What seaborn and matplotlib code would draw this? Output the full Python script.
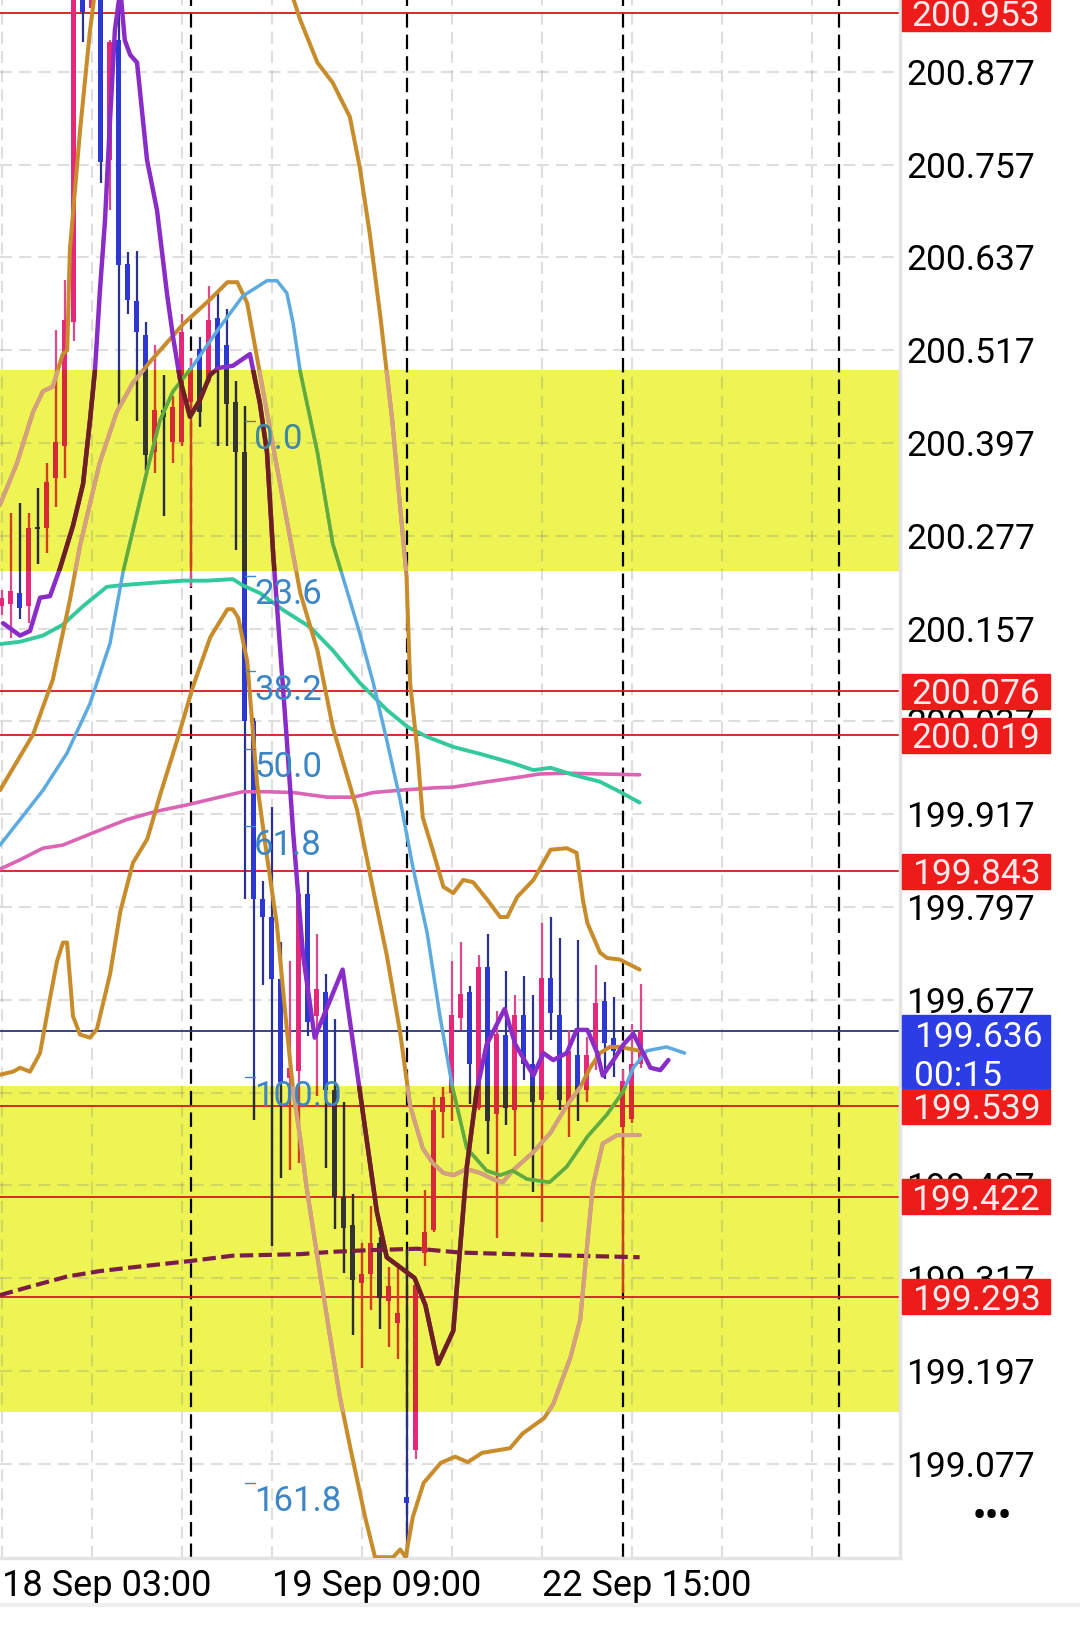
import numpy as np
import matplotlib.pyplot as plt
from matplotlib.patches import Rectangle
from matplotlib.lines import Line2D
import seaborn as sns

# H1 candles, index 0 = 18 Sep 03:00
opens = [200.186, 200.189, 200.203, 200.186, 200.288, 200.287, 200.352, 200.393, 200.554, 201.000,
         200.960, 201.050, 200.763, 200.918, 200.629, 200.581, 200.537, 200.385, 200.440, 200.398,
         200.398, 200.450, 200.519, 200.477, 200.559, 200.524, 200.450, 200.385, 200.038, 199.807,
         199.784, 199.704, 199.576, 199.585, 199.814, 199.656, 199.687, 199.560, 199.422, 199.386,
         199.311, 199.322, 199.363, 199.288, 199.259, 199.034, 199.095, 199.350, 199.379, 199.532,
         199.557, 199.654, 199.687, 199.537, 199.720, 199.529, 199.632, 199.535, 199.657, 199.594,
         199.547, 199.705, 199.657, 199.542, 199.605, 199.560, 199.613, 199.676, 199.627, 199.513,
         199.523, 199.594]
highs = [200.207, 200.307, 200.320, 200.307, 200.339, 200.371, 200.543, 200.608, 201.080, 201.060,
         201.100, 201.080, 200.918, 200.975, 200.644, 200.645, 200.554, 200.524, 200.485, 200.458,
         200.564, 200.507, 200.534, 200.600, 200.592, 200.570, 200.477, 200.445, 200.041, 199.831,
         199.926, 199.752, 199.727, 199.820, 199.842, 199.762, 199.710, 199.652, 199.545, 199.426,
         199.363, 199.410, 199.370, 199.332, 199.336, 199.355, 199.310, 199.431, 199.551, 199.564,
         199.727, 199.752, 199.695, 199.735, 199.762, 199.663, 199.714, 199.683, 199.708, 199.683,
         199.776, 199.784, 199.757, 199.638, 199.754, 199.629, 199.722, 199.700, 199.681, 199.586,
         199.646, 199.698]
lows = [200.175, 200.145, 200.170, 200.164, 200.241, 200.255, 200.314, 200.352, 200.529, 200.916,
        200.950, 200.733, 200.698, 200.442, 200.564, 200.426, 200.361, 200.358, 200.303, 200.371,
        200.393, 200.211, 200.418, 200.475, 200.393, 200.393, 200.259, 199.807, 199.522, 199.696,
        199.359, 199.447, 199.457, 199.466, 199.630, 199.553, 199.460, 199.380, 199.323, 199.244,
        199.201, 199.276, 199.251, 199.228, 199.213, 198.958, 199.083, 199.333, 199.377, 199.498,
        199.520, 199.638, 199.542, 199.535, 199.478, 199.369, 199.515, 199.475, 199.573, 199.429,
        199.390, 199.625, 199.535, 199.500, 199.520, 199.545, 199.586, 199.575, 199.577, 199.298,
        199.518, 199.589]
closes = [200.197, 200.206, 200.184, 200.287, 200.286, 200.347, 200.398, 200.556, 201.050, 200.955,
          201.060, 200.760, 200.916, 200.627, 200.582, 200.541, 200.382, 200.440, 200.431, 200.444,
          200.541, 200.494, 200.437, 200.556, 200.492, 200.448, 200.385, 200.038, 199.807, 199.784,
          199.704, 199.570, 199.589, 199.814, 199.648, 199.691, 199.560, 199.422, 199.382, 199.315,
          199.322, 199.363, 199.291, 199.307, 199.272, 199.026, 199.308, 199.377, 199.535, 199.551,
          199.657, 199.685, 199.594, 199.720, 199.520, 199.633, 199.537, 199.657, 199.594, 199.545,
          199.705, 199.660, 199.547, 199.611, 199.560, 199.605, 199.673, 199.621, 199.611, 199.572,
          199.594, 199.636]

# fast MA (purple)
purple_i = [0.17, 2.06, 3.17, 4.28, 5.39, 6.5, 7.94, 9.06, 9.83, 10.39, 10.94, 11.5, 12.06, 12.6, 13.2,
            13.7, 14.3, 15.06, 16.17, 17.28, 18.4, 19.06, 19.83, 20.94, 22.06, 23.17, 24.06, 25.72,
            27.6, 28.7, 29.5, 30.2, 30.9, 31.7, 32.4, 33.5, 34.8, 37.9, 39.8, 41.7, 42.8, 45.9, 47.1,
            48.5, 50.2, 51.7, 52.8, 53.9, 55.9, 57.1, 59.1, 60.2, 61.3, 62.8, 63.9, 65.1, 66.2, 66.8,
            68.0, 69.1, 70.2, 71.3, 72.1, 73.2, 74.1]
purple_v = [200.164, 200.148, 200.154, 200.197, 200.199, 200.235, 200.290, 200.344, 200.426, 200.492,
            200.595, 200.685, 200.815, 200.931, 200.983, 200.918, 200.899, 200.889, 200.763, 200.698,
            200.589, 200.534, 200.480, 200.431, 200.453, 200.485, 200.494, 200.497, 200.512, 200.449,
            200.385, 200.251, 200.140, 200.013, 199.894, 199.735, 199.628, 199.716, 199.560, 199.403,
            199.344, 199.317, 199.282, 199.206, 199.249, 199.461, 199.559, 199.619, 199.665, 199.619,
            199.579, 199.608, 199.599, 199.608, 199.638, 199.638, 199.608, 199.579, 199.599, 199.619,
            199.633, 199.608, 199.589, 199.586, 199.599]

# light blue MA
lblue_i = [-0.17, 2.06, 4.61, 7.28, 9.83, 12.06, 13.5, 16.17, 17.6, 19.06, 21.28, 23.9, 26.8, 29.5,
           30.6, 31.7, 32.4, 33.2, 35.1, 36.8, 38.7, 39.8, 41.3, 42.8, 44.3, 45.7, 47.3, 48.7, 50.1,
           51.7, 53.9, 55.4, 56.8, 58.4, 60.9, 62.8, 65.1, 67.3, 69.1, 70.2, 71.7, 73.9, 75.9]
lblue_v = [199.877, 199.910, 199.948, 199.996, 200.060, 200.138, 200.230, 200.361, 200.426, 200.464,
           200.497, 200.541, 200.587, 200.607, 200.607, 200.591, 200.552, 200.489, 200.385, 200.267,
           200.194, 200.151, 200.087, 200.013, 199.935, 199.849, 199.763, 199.657, 199.564, 199.485,
           199.456, 199.450, 199.456, 199.445, 199.441, 199.461, 199.500, 199.529, 199.559, 199.589,
           199.611, 199.616, 199.608]

# bands (orange)
upper_i = [-0.17, 1.72, 3.5, 4.6, 5.7, 6.8, 7.3, 7.6, 8.7, 9.8, 10.4, 20.0, 32.1, 33.2, 35.1, 36.8,
           38.7, 39.8, 40.9, 42.1, 43.4, 45.0, 45.4, 46.2, 46.8, 47.9, 49.1, 50.2, 51.3, 52.4, 54.0,
           55.4, 56.2, 57.3, 59.1, 61.0, 62.8, 63.9, 64.6, 65.1, 66.5, 67.3, 68.7, 70.9]
upper_v = [200.317, 200.371, 200.437, 200.464, 200.470, 200.512, 200.517, 200.647, 200.798, 200.927,
           200.983, 201.400, 200.983, 200.944, 200.889, 200.863, 200.819, 200.754, 200.669, 200.560,
           200.428, 200.225, 200.087, 200.000, 199.913, 199.871, 199.823, 199.815, 199.832, 199.829,
           199.806, 199.784, 199.784, 199.810, 199.832, 199.871, 199.873, 199.867, 199.806, 199.776,
           199.738, 199.731, 199.729, 199.716]
lower_i = [-0.17, 1.28, 2.06, 3.17, 4.28, 5.39, 6.17, 6.83, 7.28, 7.94, 8.72, 9.83, 10.6, 12.06, 13.2,
           14.6, 16.2, 17.6, 19.5, 21.3, 23.2, 25.1, 25.7, 26.3, 27.3, 28.4, 29.5, 30.6, 31.7, 32.4,
           33.2, 33.9, 35.4, 36.8, 37.6, 38.8, 40.4, 41.5, 43.5, 44.3, 44.9, 45.7, 46.9, 48.8, 50.4,
           51.8, 53.4, 56.5, 57.9, 60.3, 61.3, 63.2, 64.3, 65.1, 65.7, 66.8, 68.4, 70.9]
lower_v = [199.580, 199.584, 199.589, 199.584, 199.608, 199.679, 199.727, 199.751, 199.751, 199.656,
           199.632, 199.628, 199.639, 199.710, 199.791, 199.854, 199.885, 199.941, 200.012, 200.083,
           200.146, 200.182, 200.182, 200.171, 200.115, 199.956, 199.862, 199.774, 199.639, 199.560,
           199.497, 199.434, 199.322, 199.220, 199.163, 199.095, 199.008, 198.956, 198.956, 198.966,
           198.956, 199.008, 199.052, 199.078, 199.086, 199.079, 199.091, 199.097, 199.116, 199.136,
           199.154, 199.214, 199.263, 199.363, 199.436, 199.491, 199.502, 199.502]
mid_i = [-0.17, 3.5, 5.7, 7.6, 8.7, 10.9, 12.8, 14.6, 16.5, 20.2, 23.2, 25.1, 26.2, 27.3, 28.4, 30.6,
         33.2, 35.1, 36.8, 39.5, 41.3, 42.8, 44.3, 45.4, 46.8, 47.9, 49.1, 50.2, 51.7, 53.2, 54.6,
         55.7, 56.8, 59.1, 61.0, 62.8, 64.3, 65.4, 66.5, 67.6, 68.7, 70.9]
mid_v = [199.948, 200.020, 200.091, 200.194, 200.263, 200.371, 200.437, 200.475, 200.502, 200.551,
         200.583, 200.605, 200.605, 200.578, 200.507, 200.366, 200.203, 200.129, 200.030, 199.923,
         199.819, 199.735, 199.634, 199.540, 199.485, 199.466, 199.453, 199.450, 199.458, 199.453,
         199.445, 199.441, 199.456, 199.480, 199.505, 199.540, 199.564, 199.589, 199.608, 199.616,
         199.616, 199.611]

# slow MAs
teal_i = [-0.17, 2.06, 4.6, 6.8, 9.06, 11.7, 13.2, 16.5, 20.2, 22.8, 25.7, 26.8, 28.7, 31.3, 34.3,
          36.8, 39.8, 42.8, 45.1, 47.3, 50.2, 53.5, 56.8, 59.1, 61.0, 63.5, 66.5, 68.7, 70.9]
teal_v = [200.137, 200.140, 200.148, 200.162, 200.186, 200.211, 200.213, 200.216, 200.219, 200.219,
          200.221, 200.213, 200.203, 200.181, 200.159, 200.129, 200.087, 200.052, 200.030, 200.017,
          200.004, 199.994, 199.983, 199.974, 199.977, 199.968, 199.959, 199.946, 199.932]
pink_i = [-0.17, 2.06, 4.6, 6.8, 10.2, 13.9, 17.3, 20.6, 23.5, 26.8, 29.5, 32.4, 36.2, 39.1, 41.3,
          44.3, 48.0, 50.2, 54.0, 57.6, 59.8, 62.8, 66.5, 70.9]
pink_v = [199.846, 199.858, 199.873, 199.877, 199.893, 199.910, 199.921, 199.929, 199.937, 199.946,
          199.946, 199.945, 199.939, 199.939, 199.945, 199.948, 199.951, 199.952, 199.959, 199.965,
          199.969, 199.970, 199.969, 199.968]
dash_i = [-0.17, 3.5, 7.28, 10.9, 14.6, 20.9, 25.7, 29.5, 33.2, 36.8, 40.6, 46.2, 51.0, 59.8, 70.9]
dash_v = [199.295, 199.307, 199.319, 199.326, 199.331, 199.339, 199.346, 199.347, 199.348, 199.351,
          199.353, 199.355, 199.350, 199.347, 199.344]

red_levels = [200.953, 200.076, 200.019, 199.843, 199.539, 199.422, 199.293]
last_price = 199.636
timer = '00:15'
zone_lo = [200.231, 199.144]
zone_hi = [200.492, 199.565]
fib_hi, fib_lo = 200.426, 199.577
fib_pct = [0.0, 23.6, 38.2, 50.0, 61.8, 100.0, 161.8]
price_ticks = [round(199.077 + 0.12 * k, 3) for k in range(16)]
time_idx = [0, 30, 60]
time_labels = ['18 Sep 03:00', '19 Sep 09:00', '22 Sep 15:00']
day_breaks = [21, 45, 69, 93]

sns.set_style('white')
plt.rcParams['font.family'] = ['Roboto', 'DejaVu Sans']

fig = plt.figure(figsize=(10.8, 16.41), dpi=100)
ax = fig.add_axes([0, 83 / 1641, 900 / 1080, 1558 / 1641])
ax.set_xlim(-0.167, 99.83)
ax.set_ylim(198.955, 200.970)

zones = [ax.axhspan(lo, hi, color='#eef453', lw=0, zorder=0.5) for lo, hi in zip(zone_lo, zone_hi)]

gridc = (0.5, 0.5, 0.5, 0.26)
for v in price_ticks:
    ax.axhline(v, color=gridc, lw=1.5, dashes=(5.8, 3.4), zorder=0.6)
for i in range(0, 100, 10):
    ax.axvline(i, color=gridc, lw=1.5, dashes=(5.8, 3.4), zorder=0.6)
for i in day_breaks:
    ax.axvline(i, color='black', lw=1.6, dashes=(6.5, 3.2), zorder=0.8)
for v in red_levels:
    ax.axhline(v, color='#d31b1b', lw=1.3, zorder=1.5)
ax.axhline(last_price, color='#2e3185', lw=1.3, zorder=1.5)

# candles (recoloured inside the yellow zones)
x = np.arange(len(opens))
o, h, l, c = map(np.array, (opens, highs, lows, closes))
up = c >= o
body_lo = np.minimum(o, c)
body_h = np.maximum(np.abs(c - o), 0.0025)


def candles(up_body, dn_body, up_wick, dn_wick, clip=None):
    wl = ax.vlines(x, l, h, colors=np.where(up, up_wick, dn_wick), lw=1.6, zorder=2)
    bars = ax.bar(x, body_h, bottom=body_lo, width=0.6, color=np.where(up, up_body, dn_body),
                  lw=0, zorder=2.1)
    if clip is not None:
        wl.set_clip_path(clip)
        for p in bars.patches:
            p.set_clip_path(clip)


candles('#e6287a', '#2d37d2', '#dd4a8c', '#2a3290')
for zn in zones:
    candles('#d62836', '#333333', '#d2401a', '#2b2b2b', clip=zn)


def draw(xs, ys, col, col_in, lw, z=3):
    sns.lineplot(x=xs, y=ys, color=col, lw=lw, sort=False, estimator=None, ax=ax, zorder=z,
                 solid_capstyle='round', solid_joinstyle='round')
    out = [ax.lines[-1]]
    if col_in:
        for zn in zones:
            sns.lineplot(x=xs, y=ys, color=col_in, lw=lw, sort=False, estimator=None, ax=ax,
                         zorder=z + 0.01, solid_capstyle='round', solid_joinstyle='round')
            ax.lines[-1].set_clip_path(zn)
            out.append(ax.lines[-1])
    return out


ORANGE, TAN = '#c98c2a', '#d3a084'
draw(pink_i, pink_v, '#dc64b4', None, 2.6)
draw(teal_i, teal_v, '#33c99c', None, 2.8)
for ln in draw(dash_i, dash_v, '#7a1e48', None, 3.0):
    ln.set_dashes((3.2, 1.3))
draw(mid_i, mid_v, ORANGE, TAN, 2.9)
draw(lower_i, lower_v, ORANGE, TAN, 2.9)
draw(upper_i, upper_v, ORANGE, TAN, 2.9)
draw(lblue_i, lblue_v, '#5caae0', '#63ad36', 2.5)
draw(purple_i, purple_v, '#8a2cc8', '#6e2020', 3.2)

# fibonacci levels
for p in fib_pct:
    lv = fib_hi - (fib_hi - fib_lo) * p / 100
    inside = any(lo <= lv <= hi for lo, hi in zip(zone_lo, zone_hi))
    fc = '#3f8aa2' if inside else '#3d86c6'
    ax.plot([27.05, 28.2], [lv, lv], color=fc, lw=1, zorder=4)
    ax.annotate(f'{p:.1f}', (28.05, lv), xytext=(0, -19), textcoords='offset pixels',
                ha='left', va='center', color=fc, fontsize=25, zorder=4)

# axes styling
ax.yaxis.tick_right()
ax.set_yticks(price_ticks, [f'{v:.3f}' for v in price_ticks])
ax.tick_params(axis='y', length=0, pad=4.3, labelsize=25.5, labelcolor='black')
ax.set_xticks(time_idx, time_labels)
ax.tick_params(axis='x', length=0, pad=7, labelsize=26, labelcolor='black')
for t in ax.get_xticklabels():
    t.set_ha('left')
for s in ['top', 'left']:
    ax.spines[s].set_visible(False)
for s in ['right', 'bottom']:
    ax.spines[s].set_color('#e4e4e4')
    ax.spines[s].set_linewidth(2.5)

# price boxes on the scale
trans = ax.get_yaxis_transform()
bh = 0.0452
for v in red_levels:
    ax.add_patch(Rectangle((1.0022, v - bh / 2), 0.1644, bh, transform=trans, color='#ee1b1b',
                           clip_on=False, zorder=6))
    ax.text(1.0844, v, f'{v:.3f}', transform=trans, ha='center', va='center_baseline',
            color='#ffeaea', fontsize=25.5, zorder=7, clip_on=False)
ax.add_patch(Rectangle((1.0022, last_price - 0.073), 0.1644, 0.094, transform=trans,
                       color='#2c3de6', clip_on=False, zorder=6.5))
ax.text(1.0156, last_price - 0.003, f'{last_price:.3f}', transform=trans, ha='left',
        va='center_baseline', color='white', fontsize=25.5, zorder=7, clip_on=False)
ax.text(1.0156, last_price - 0.054, timer, transform=trans, ha='left',
        va='center_baseline', color='white', fontsize=25.5, zorder=7, clip_on=False)

fig.text(0.9185, 1 - 1517 / 1641, '•••', ha='center', va='center', fontsize=26,
         fontweight='bold', color='black')
fig.add_artist(Line2D([0, 1], [1 - 1605 / 1641] * 2, color='#efefef', lw=3,
                      transform=fig.transFigure))

fig.savefig('out.png', dpi=100)
